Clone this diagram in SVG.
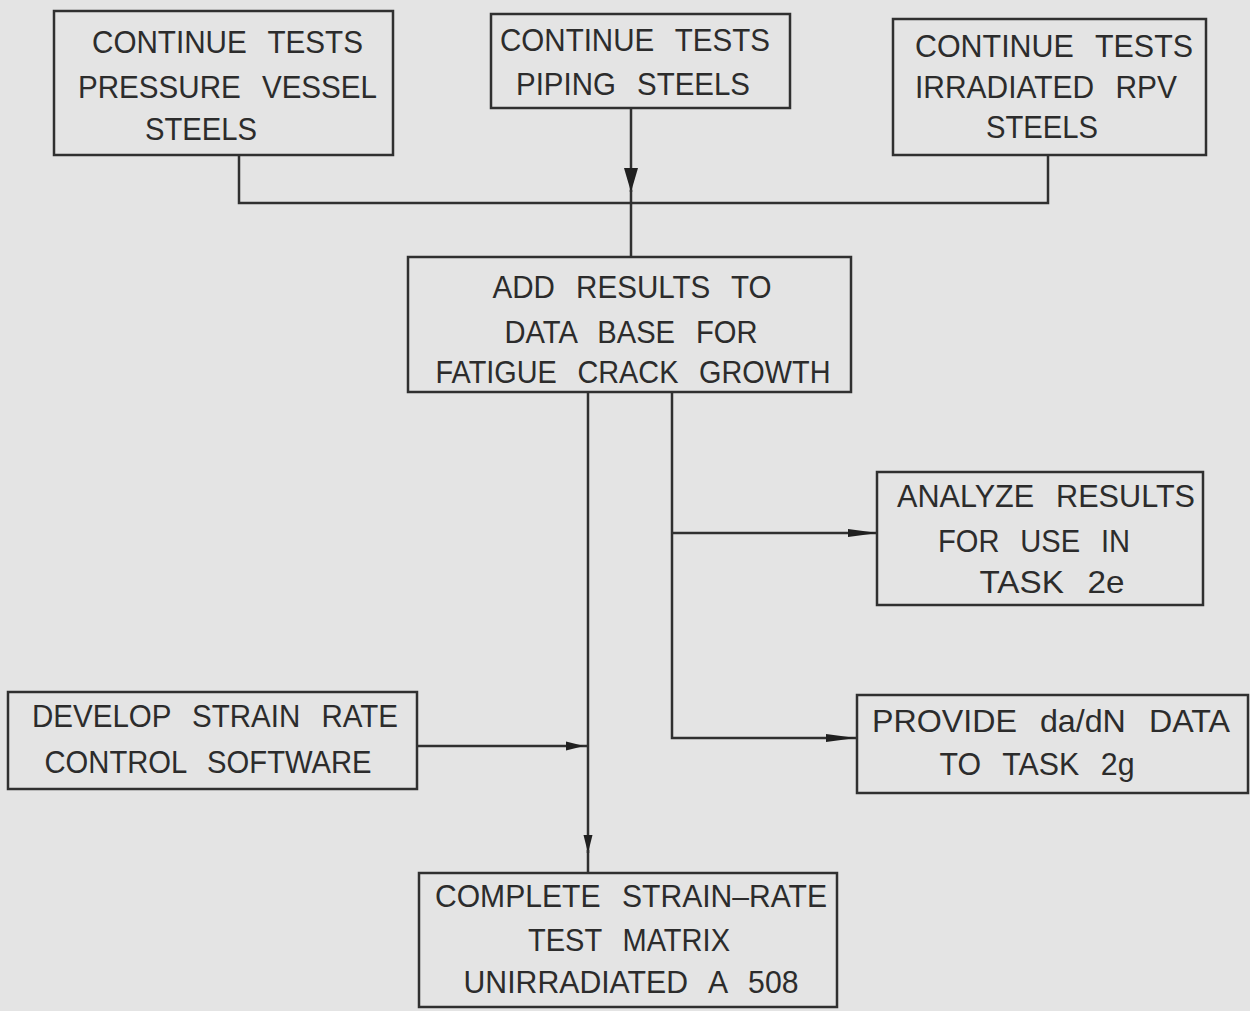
<svg xmlns="http://www.w3.org/2000/svg" width="1250" height="1011" viewBox="0 0 1250 1011">
  <style>
    .box { fill: none; stroke: #303030; stroke-width: 2.5; }
    .lbl { font-family: "Liberation Sans", Arial, sans-serif; font-size: 32px; fill: #2c2c2c; text-anchor: middle; word-spacing: 14px; }
    .con { fill: none; stroke: #303030; stroke-width: 2.5; }
  </style>
  <defs>
    <marker id="arrowBig" markerUnits="userSpaceOnUse" markerWidth="24" markerHeight="16" viewBox="0 0 24 16" refX="24" refY="8" orient="auto">
      <path d="M0,1 L24,8 L0,15 Z" fill="#202020"/>
    </marker>
    <marker id="arrowH" markerUnits="userSpaceOnUse" markerWidth="30" markerHeight="10" viewBox="0 0 30 10" refX="30" refY="5" orient="auto">
      <path d="M0,1 L30,5 L0,9 Z" fill="#202020"/>
    </marker>
    <marker id="arrowS" markerUnits="userSpaceOnUse" markerWidth="18" markerHeight="10" viewBox="0 0 18 10" refX="18" refY="5" orient="auto">
      <path d="M0,0.5 L18,5 L0,9.5 Z" fill="#202020"/>
    </marker>
  </defs>
  <rect x="0" y="0" width="1250" height="1011" fill="#e4e4e4"/>

  <g id="connectors">
    <path class="con" d="M239,155 V203 H1048 V155"/>
    <path class="con" d="M631,108 V192" marker-end="url(#arrowBig)"/>
    <path class="con" d="M631,190 V257"/>
    <path class="con" d="M588,392 V853" marker-end="url(#arrowS)"/>
    <path class="con" d="M588,850 V873"/>
    <path class="con" d="M417,746 H584" marker-end="url(#arrowS)"/>
    <path class="con" d="M584,746 H588"/>
    <path class="con" d="M672,392 V738 H856" marker-end="url(#arrowH)"/>
    <path class="con" d="M672,533 H878" marker-end="url(#arrowH)"/>
  </g>

  <g id="node-pressure-vessel">
    <rect class="box" x="54" y="11" width="339" height="144"/>
    <text class="lbl" x="227.5" y="53" textLength="271" lengthAdjust="spacingAndGlyphs">CONTINUE TESTS</text>
    <text class="lbl" x="227.5" y="98" textLength="299" lengthAdjust="spacingAndGlyphs">PRESSURE VESSEL</text>
    <text class="lbl" x="201" y="140" textLength="112" lengthAdjust="spacingAndGlyphs">STEELS</text>
  </g>

  <g id="node-piping">
    <rect class="box" x="491" y="14" width="299" height="94"/>
    <text class="lbl" x="635" y="51" textLength="270" lengthAdjust="spacingAndGlyphs">CONTINUE TESTS</text>
    <text class="lbl" x="633" y="95" textLength="234" lengthAdjust="spacingAndGlyphs">PIPING STEELS</text>
  </g>

  <g id="node-irradiated">
    <rect class="box" x="893" y="19" width="313" height="136"/>
    <text class="lbl" x="1054" y="57" textLength="278" lengthAdjust="spacingAndGlyphs">CONTINUE TESTS</text>
    <text class="lbl" x="1046" y="98" textLength="262" lengthAdjust="spacingAndGlyphs">IRRADIATED RPV</text>
    <text class="lbl" x="1042" y="138" textLength="112" lengthAdjust="spacingAndGlyphs">STEELS</text>
  </g>

  <g id="node-add-results">
    <rect class="box" x="408" y="257" width="443" height="135"/>
    <text class="lbl" x="632" y="298" textLength="279" lengthAdjust="spacingAndGlyphs">ADD RESULTS TO</text>
    <text class="lbl" x="631" y="343" textLength="253" lengthAdjust="spacingAndGlyphs">DATA BASE FOR</text>
    <text class="lbl" x="633" y="383" textLength="395" lengthAdjust="spacingAndGlyphs">FATIGUE CRACK GROWTH</text>
  </g>

  <g id="node-analyze">
    <rect class="box" x="877" y="472" width="326" height="133"/>
    <text class="lbl" x="1046" y="507" textLength="298" lengthAdjust="spacingAndGlyphs">ANALYZE RESULTS</text>
    <text class="lbl" x="1034" y="552" textLength="192" lengthAdjust="spacingAndGlyphs">FOR USE IN</text>
    <text class="lbl" x="1052" y="593" textLength="145" lengthAdjust="spacingAndGlyphs">TASK 2e</text>
  </g>

  <g id="node-develop">
    <rect class="box" x="8" y="692" width="409" height="97"/>
    <text class="lbl" x="215" y="727" textLength="366" lengthAdjust="spacingAndGlyphs">DEVELOP STRAIN RATE</text>
    <text class="lbl" x="208" y="773" textLength="327" lengthAdjust="spacingAndGlyphs">CONTROL SOFTWARE</text>
  </g>

  <g id="node-provide">
    <rect class="box" x="857" y="695" width="391" height="98"/>
    <text class="lbl" x="1051" y="732" textLength="358" lengthAdjust="spacingAndGlyphs">PROVIDE da/dN DATA</text>
    <text class="lbl" x="1037" y="775" textLength="195" lengthAdjust="spacingAndGlyphs">TO TASK 2g</text>
  </g>

  <g id="node-complete">
    <rect class="box" x="419" y="873" width="418" height="134"/>
    <text class="lbl" x="631" y="907" textLength="392" lengthAdjust="spacingAndGlyphs">COMPLETE STRAIN–RATE</text>
    <text class="lbl" x="629" y="951" textLength="202" lengthAdjust="spacingAndGlyphs">TEST MATRIX</text>
    <text class="lbl" x="631" y="993" textLength="335" lengthAdjust="spacingAndGlyphs">UNIRRADIATED A 508</text>
  </g>
</svg>
